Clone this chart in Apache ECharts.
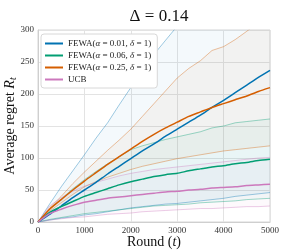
<!DOCTYPE html>
<html><head><meta charset="utf-8">
<script src="https://cdn.jsdelivr.net/npm/echarts@6/dist/echarts.min.js"></script>
<style>html,body{margin:0;padding:0;background:#fff}#c{width:300px;height:250px}</style>
</head><body><div id="c"></div>
<script>
var rounds = [0,250,500,750,1000,1250,1500,1750,2000,2250,2500,2750,3000,3250,3500,3750,4000,4250,4500,4750,5000];
var xTicks = [0,1000,2000,3000,4000,5000];
var yTicks = [0,50,100,150,200,250,300];
var names = ['FEWA(α = 0.01, δ = 1)','FEWA(α = 0.06, δ = 1)','FEWA(α = 0.25, δ = 1)','UCB'];
var colors = ['#0173B2','#029E73','#D55E00','#CC78BC'];

var blueMean  = [0,12,25,38,50,62,75,87,99,111,122,134,145,156,167,179,190,202,214,226,237];
var blueUpper = [0,28,55,80,105,131,155,183,210,236,262,284,306,330,352,375,397,420,442,463,485];
var blueLower = [0,3,6,8,11,13,16,19,22,24,26,28,29,31,33,35,37,40,42,44,46];

var greenMean  = [0,15,24,32,40,46,52,58,63,67,71,74,76,80,83,86,88,91,93,96,98];
var greenUpper = [0,20,36,52,66,79,91,102,113,119,124,129,133,137,141,147,150,155,157,159,161];
var greenLower = [0,4,7,10,13,15,17,19,21,23,25,26,27,28,30,31,32,33,35,36,37];

var orangeMean  = [0,20,35,50,64,77,90,102,114,126,137,147,156,165,172,179,185,191,197,204,210];
var orangeUpper = [0,22,40,60,78,95,112,128,145,165,185,205,225,240,252,268,274,285,298,312,325];
var orangeLower = [0,17,30,43,55,63,70,76,82,87,91,95,99,102,105,108,111,113,115,117,119];

var ucbMean  = [0,13,20,26,31,34,37,39,41,43,45,47,48,50,51,53,54,55,57,58,59];
var ucbUpper = [0,25,38,48,56,62,67,72,76,79,82,84,86,88,90,92,94,96,98,100,101];
var ucbLower = [0,3,5,7,8,10,12,13,14,16,17,18,19,20,21,21,22,23,24,24,25];

var means = [blueMean, greenMean, orangeMean, ucbMean];
var uppers = [blueUpper, greenUpper, orangeUpper, ucbUpper];
var lowers = [blueLower, greenLower, orangeLower, ucbLower];

function hexA(h,a){ var r=parseInt(h.substr(1,2),16),g=parseInt(h.substr(3,2),16),b=parseInt(h.substr(5,2),16); return 'rgba('+r+','+g+','+b+','+a+')'; }

var series = [];
for (var k=0;k<4;k++){
  var st = 'band'+k;
  series.push({type:'line', name:'lo'+k, stack:st, data:lowers[k].slice(), symbol:'none', z:1,
    lineStyle:{color:colors[k], width:0.7, opacity:0.55}, silent:true});
  series.push({type:'line', name:'up'+k, stack:st,
    data:uppers[k].map(function(u,i){ return u-lowers[k][i]; }), symbol:'none', z:1,
    lineStyle:{color:colors[k], width:0.7, opacity:0.55},
    areaStyle:{color:hexA(colors[k],0.06)}, silent:true});
}
for (var k=0;k<4;k++){
  series.push({type:'line', name:names[k], data:means[k].slice(), symbol:'none', z:5,
    itemStyle:{color:colors[k]}, lineStyle:{color:colors[k], width:1.5}, smooth:0.2});
}

var serif = 'Liberation Serif, DejaVu Serif, serif';
var legendRich = {
  n:{fontFamily:serif,fontSize:9,color:'#222'},
  i:{fontFamily:serif,fontSize:9,fontStyle:'italic',color:'#222'}
};
var chart = echarts.init(document.getElementById('c'));
chart.setOption({
  animation:false,
  backgroundColor:'#fff',
  title:{text:'Δ = 0.14', left:154, top:3, textAlign:'center',
    textStyle:{fontFamily:serif, fontSize:17, fontWeight:'normal', color:'#111'}},
  grid:{left:38, right:30, top:30, bottom:28, outerBoundsMode:'none', containLabel:false,
    show:true, borderColor:'#d6d6d6', borderWidth:1, backgroundColor:'transparent'},
  legend:{data:names, left:41, top:34, orient:'vertical', itemGap:3, itemWidth:18, itemHeight:2,
    icon:'rect', padding:[5,6,4,4], backgroundColor:'#fff', borderColor:'#d8d8d8', borderWidth:1, borderRadius:3,
    formatter:function(n){
      if (n==='UCB') return '{n|UCB}';
      var m = n.match(/α = ([0-9.]+)/);
      return '{n|FEWA(}{i|α}{n| = '+m[1]+', }{i|δ}{n| = 1)}';
    },
    textStyle:{fontFamily:serif, fontSize:9, color:'#222', rich:legendRich}},
  xAxis:{type:'category', data:rounds.map(String), boundaryGap:false,
    name:'Round ({i|t})', nameLocation:'middle', nameGap:13, nameMoveOverlap:false,
    nameTextStyle:{fontFamily:serif, fontSize:14, color:'#111', verticalAlign:'top',
      rich:{i:{fontFamily:serif,fontSize:14,fontStyle:'italic',color:'#111'}}},
    axisLine:{lineStyle:{color:'#cfcfcf'}}, axisTick:{show:false},
    axisLabel:{fontFamily:serif, fontSize:9, color:'#333', margin:4, interval:function(i,v){ return xTicks.indexOf(+v)>=0; }},
    splitLine:{show:true, interval:function(i,v){ return xTicks.indexOf(+v)>=0; }, lineStyle:{color:'#e3e3e3'}}},
  yAxis:{type:'value', min:0, max:300, interval:50,
    name:'Average regret {i|R}{s|t}', nameLocation:'middle', nameGap:20, nameMoveOverlap:false,
    nameTextStyle:{fontFamily:serif, fontSize:14, color:'#111',
      rich:{i:{fontFamily:serif,fontSize:14,fontStyle:'italic',color:'#111'},
            s:{fontFamily:serif,fontSize:10,fontStyle:'italic',color:'#111',verticalAlign:'bottom',padding:[6,0,0,0]}}},
    axisLine:{show:true, lineStyle:{color:'#cfcfcf'}}, axisTick:{show:false},
    axisLabel:{fontFamily:serif, fontSize:9, color:'#333', margin:4,
      formatter:function(v){ return yTicks.indexOf(v)>=0 ? String(v) : ''; }},
    splitLine:{lineStyle:{color:'#e3e3e3'}}},
  series:series
});
</script></body></html>
